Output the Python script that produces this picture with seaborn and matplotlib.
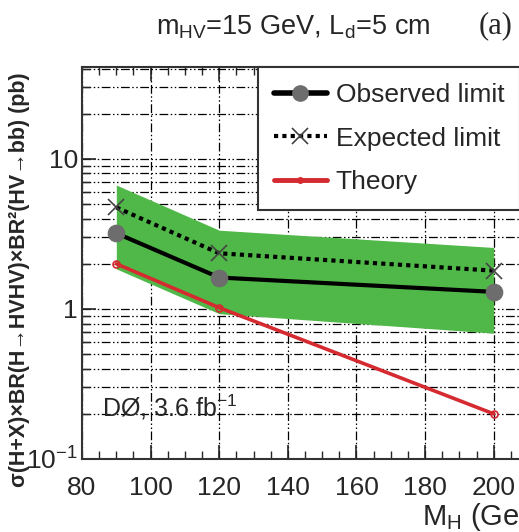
import matplotlib
matplotlib.use("Agg")
import numpy as np
import pandas as pd
import matplotlib.pyplot as plt
import seaborn as sns
from matplotlib.lines import Line2D
from matplotlib.ticker import FixedLocator, FuncFormatter, LogLocator, NullFormatter

# values
mh = [90, 120, 200]
observed = [3.2, 1.62, 1.30]
expected = [4.75, 2.35, 1.80]
theory = [2.0, 1.02, 0.20]
band_hi = [6.7, 3.35, 2.57]
band_lo = [1.85, 0.93, 0.69]

sns.set_style("ticks")
plt.rcParams["font.family"] = ["Liberation Sans", "DejaVu Sans"]
plt.rcParams["mathtext.default"] = "regular"

fig = plt.figure(figsize=(5.19, 5.32), dpi=100)
W, H = 519, 532
ax = fig.add_axes([82 / W, 73 / H, 446 / W, 392 / H])

df = pd.DataFrame({"mh": mh, "observed": observed, "expected": expected, "theory": theory})

ax.fill_between(mh, band_lo, band_hi, color="#50b848", lw=0, zorder=2)
sns.lineplot(data=df, x="mh", y="theory", ax=ax, color="#d42a30", lw=2.6,
             marker="o", ms=5, mfc="none", mec="#d42a30", mew=1.2, zorder=3)
sns.lineplot(data=df, x="mh", y="observed", ax=ax, color="black", lw=3.0,
             marker="o", ms=12, mfc="#6d6d6d", mec="#6d6d6d", zorder=4)
sns.lineplot(data=df, x="mh", y="expected", ax=ax, color="black", lw=3.0,
             linestyle=(0, (1, 1)), marker="x", ms=12, mec="#444444", mew=1.2, zorder=4)

ax.set_yscale("log")
ax.set_xlim(80, 210)
ax.set_ylim(0.1, 41)
ax.set_xlabel("")
ax.set_ylabel("")

ax.xaxis.set_major_locator(FixedLocator(np.arange(80, 211, 20)))
ax.xaxis.set_minor_locator(FixedLocator(np.arange(80, 211, 5)))
ax.yaxis.set_major_locator(LogLocator(base=10))
ax.yaxis.set_minor_locator(LogLocator(base=10, subs=np.arange(2, 10)))
ax.yaxis.set_minor_formatter(NullFormatter())
ylab = {0.1: "10$^{-1}$", 1: "1", 10: "10"}
ax.yaxis.set_major_formatter(FuncFormatter(lambda v, p: ylab.get(round(v, 3), "")))

grid_kw = dict(color="black", lw=0.9, dashes=(7, 2, 1.2, 2, 1.2, 2))
ax.grid(True, which="major", axis="both", **grid_kw)
ax.grid(True, which="minor", axis="y", **grid_kw)
ax.set_axisbelow(True)

ax.tick_params(axis="x", which="major", direction="in", length=10, width=1.2,
               labelsize=19, pad=12, top=True)
ax.tick_params(axis="x", which="minor", direction="in", length=6, width=1.0, top=True)
ax.tick_params(axis="y", which="major", direction="in", length=10, width=1.2,
               labelsize=19, pad=3)
ax.tick_params(axis="y", which="minor", direction="in", length=6, width=1.0)
for s in ax.spines.values():
    s.set_linewidth(1.5)
    s.set_color("#333333")

handles = [
    Line2D([], [], color="black", lw=4, marker="o", ms=11, mfc="#6d6d6d", mec="#6d6d6d"),
    Line2D([], [], color="black", lw=3, linestyle=(0, (1, 1)), marker="x", ms=12,
           mec="#444444", mew=1.2),
    Line2D([], [], color="#d42a30", lw=3.5, marker="o", ms=4, mfc="#d42a30", mec="#d42a30"),
]
leg = ax.legend(handles, ["Observed limit", "Expected limit", "Theory"],
                loc="upper left", bbox_to_anchor=(258 / W, 1 - 67 / H),
                bbox_transform=fig.transFigure, fontsize=19, frameon=True,
                fancybox=False, framealpha=1, edgecolor="#333333",
                handlelength=2.0, handletextpad=0.35, borderpad=0.6,
                labelspacing=0.75, borderaxespad=0)
leg.get_frame().set_linewidth(1.5)
leg.set_zorder(10)

ax.text(0.045, 0.133, "DØ, 3.6 fb$^{-1}$", transform=ax.transAxes, fontsize=18,
        ha="left", va="center", zorder=5)

fig.text(293 / W, 1 - 27 / H, "m$_{HV}$=15 GeV, L$_d$=5 cm", fontsize=19.5,
         ha="center", va="center")
fig.text(479 / W, 1 - 26 / H, "(a)", fontsize=22, ha="left", va="center",
         family=["Liberation Serif"])
fig.text(422 / W, 1 - 517 / H, "M$_H$ (GeV)", fontsize=21, ha="left", va="center")
fig.text(20 / W, 0.475, "σ(H+X)×BR(H→HVHV)×BR²(HV→bb) (pb)", rotation=90,
         fontsize=15.5, fontweight="bold", ha="center", va="center")

fig.savefig("out.png", dpi=100)
